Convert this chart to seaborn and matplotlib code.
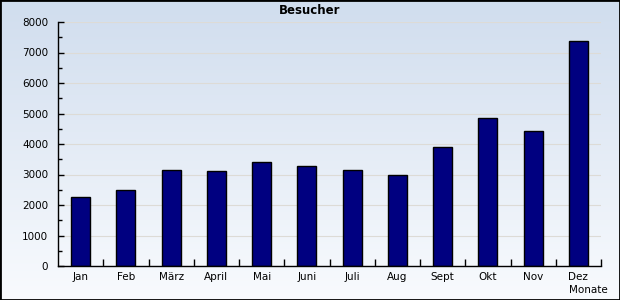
import numpy as np
import pandas as pd
import matplotlib
matplotlib.use("Agg")
import matplotlib.pyplot as plt
from matplotlib.ticker import MultipleLocator, FixedLocator
from matplotlib.patches import Rectangle
import seaborn as sns

months = ["Jan", "Feb", "März", "April", "Mai", "Juni", "Juli", "Aug", "Sept", "Okt", "Nov", "Dez"]
visitors = [2250, 2480, 3140, 3130, 3400, 3270, 3140, 2980, 3900, 4840, 4410, 7370]
title = "Besucher"
xlabel = "Monate"

df = pd.DataFrame({"Monat": months, "Besucher": visitors})

sns.set_theme(style="white")
plt.rcParams["font.family"] = ["DejaVu Sans"]

fig = plt.figure(figsize=(6.2, 3.0), dpi=100)

# background gradient
bg = fig.add_axes([0, 0, 1, 1], zorder=-10)
grad = np.linspace(0, 1, 256).reshape(-1, 1)
top = np.array([0.816, 0.867, 0.933])
bot = np.array([0.976, 0.984, 0.996])
img = top[None, None, :] * (1 - grad[..., None]) + bot[None, None, :] * grad[..., None]
bg.imshow(img, aspect="auto", extent=[0, 1, 0, 1])
bg.set_axis_off()

W, H = 620, 300
ax = fig.add_axes([58 / W, (H - 266) / H, (601 - 58) / W, (266 - 22) / H])
ax.patch.set_alpha(0)

sns.barplot(data=df, x="Monat", y="Besucher", ax=ax, color="#000080",
            edgecolor="black", linewidth=1, width=0.42, saturation=1)

ax.set_xlim(-0.5, len(months) - 0.5)
ax.set_ylim(0, 8000)
ax.yaxis.set_major_locator(MultipleLocator(1000))
ax.yaxis.set_minor_locator(MultipleLocator(500))
ax.xaxis.set_minor_locator(FixedLocator(np.arange(0.5, len(months) - 0.4, 1.0)))

ax.grid(axis="y", which="major", color="#dddbd6", linewidth=0.8, zorder=0)
ax.set_axisbelow(True)

for s in ["top", "right"]:
    ax.spines[s].set_visible(False)
for s in ["left", "bottom"]:
    ax.spines[s].set_color("black")
    ax.spines[s].set_linewidth(1)

ax.tick_params(axis="y", which="major", direction="in", length=4, width=1, color="black",
               labelsize=7.5, labelcolor="black", pad=7, left=True)
ax.tick_params(axis="y", which="minor", direction="in", length=3, width=1, color="black", left=True)
ax.tick_params(axis="x", which="major", length=0, labelsize=7.5, labelcolor="black", pad=4)
ax.tick_params(axis="x", which="minor", direction="in", length=5, width=1, color="black", bottom=True)

ax.set_xlabel("")
ax.set_ylabel("")
fig.text(588 / W, 1 - 290 / H, xlabel, ha="center", va="center", fontsize=7.5, color="black")
fig.text(310 / W, 1 - 11 / H, title, ha="center", va="center", fontsize=8.5,
         fontweight="bold", color="black")

# figure border
fig.patches.append(Rectangle((0, 0), 1, 1, transform=fig.transFigure, fill=False,
                             edgecolor="black", linewidth=2, zorder=100))

fig.savefig("out.png", dpi=100)
